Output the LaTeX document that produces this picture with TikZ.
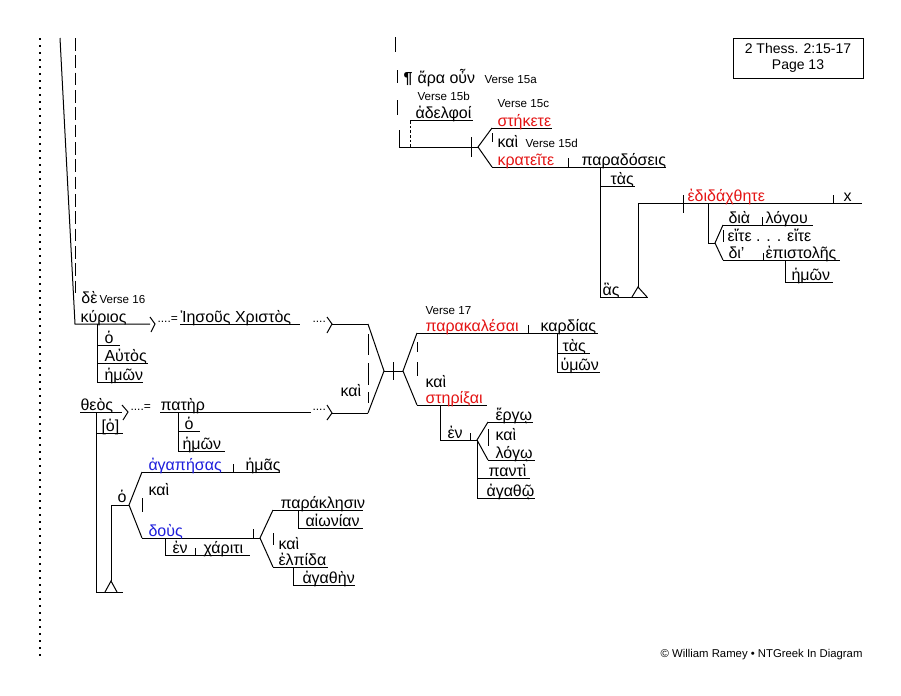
\documentclass[tikz,border=0pt]{standalone}
\usepackage{fontspec}
\setmainfont{Liberation Sans}
\definecolor{gred}{RGB}{228,20,20}
\definecolor{gblue}{RGB}{30,30,220}
\newcommand\W[5][]{\node[gk,#1] (#2) at (#3,#4-2) {#5};}
\newcommand\V[4]{\node[vs] (#1) at (#2,#3) {#4};}
\begin{document}
\begin{tikzpicture}[x=0.75pt,y=-0.75pt,line width=0.75pt,
  gk/.style={font=\fontsize{12}{14}\selectfont,inner sep=0pt,anchor=base west},
  vs/.style={font=\fontsize{8.7}{10}\selectfont,inner sep=0pt,anchor=base west},
  dts/.style={font=\fontsize{9}{10}\selectfont,inner sep=0pt,anchor=base west},
  rd/.style={text=gred}, bl/.style={text=gblue},
  dotline/.style={line width=1.5pt,dash pattern=on 1.5pt off 3.75pt},
  longdash/.style={dash pattern=on 9.5pt off 3.5pt},
  shortdash/.style={dash pattern=on 2pt off 1.5pt}]
\fill[white] (0,0) rectangle (901,696);
\useasboundingbox (0,0) rectangle (901,696);

% ---------- left margin ----------
\draw[dotline] (40,38) -- (40,658);
\draw (60,38) -- (75,324) -- (150,324);
\draw[longdash] (75,38) -- (75,298);

% ---------- kurios line ----------
\W{de}{81}{305}{δὲ}
\V{v16}{99}{303}{Verse 16}
\W{kurios}{80}{324}{κύριος}
\draw (150,317) -- (155,324) -- (151,332);
\node[dts] (eqa) at (157,322) {....=};
\W{iesous}{180}{324}{Ἰησοῦς Χριστὸς}
\draw (180,324) -- (300,324);
\node[dts] (dota) at (312,322) {....};
\draw (327,317) -- (332,324) -- (327,333);
\draw (332,324) -- (368,324);
\draw (97,324) -- (97,382);
\draw (97,345) -- (120,345); \W{ho1}{104}{345}{ὁ}
\draw (97,363) -- (148,363); \W{autos}{104}{363}{Αὐτὸς}
\draw (97,382) -- (143,382); \W{hemon1}{104}{382}{ἡμῶν}

% ---------- theos line ----------
\W{theos}{80}{412}{θεὸς}
\draw (80,412) -- (122,412);
\draw (122,405) -- (128,412) -- (123,420);
\node[dts] (eqb) at (130,410) {....=};
\W{pater}{160}{412}{πατὴρ}
\draw (160,412) -- (311,412);
\node[dts] (dotb) at (312,410) {....};
\draw (327,405) -- (332,413) -- (327,420);
\draw (332,413) -- (368,413);
\draw (178,412) -- (178,451);
\draw (178,431) -- (200,431); \W{ho2}{184}{431}{ὁ}
\draw (178,451) -- (225,451); \W{hemon2}{182}{451}{ἡμῶν}

\draw (96,412) -- (96,592);
\draw (96,433) -- (123,433); \W{ho3}{101}{433}{[ὁ]}
\draw (96,592) -- (123,592);
\draw (105,592) -- (111,581) -- (117,592);
\draw (111,581) -- (111,505) -- (129,505);
\W{ho4}{117}{504}{ὁ}
\draw (142,472) -- (129,505) -- (142,538);
\draw (142,498) -- (142,512);
\draw (142,472) -- (280,472);
\W[bl]{agapesas}{148}{472}{ἀγαπήσας}
\draw (233,464) -- (233,472);
\W{hemas}{245}{472}{ἡμᾶς}
\W{kai1}{148}{497}{καὶ}
\draw (142,538) -- (260,538);
\W[bl]{dous}{148}{538}{δοὺς}
\draw (253,529) -- (253,538);
\draw (165,538) -- (165,555) -- (250,555);
\W{en1}{172}{555}{ἐν}
\draw (195,548) -- (195,555);
\W{chariti}{203}{555}{χάριτι}
\draw (273,510) -- (260,538) -- (273,567);
\draw (273,533) -- (273,545);
\draw (273,510) -- (363,510); \W{paraklesin}{280}{510}{παράκλησιν}
\draw (298,510) -- (298,528) -- (363,528); \W{aionian}{305}{528}{αἰωνίαν}
\W{kai2}{278}{551}{καὶ}
\draw (273,567) -- (328,567); \W{elpida}{278}{567}{ἐλπίδα}
\draw (293,567) -- (293,585) -- (355,585); \W{agathen}{302}{585}{ἀγαθὴν}

% ---------- compound subject join ----------
\draw (368,324) -- (384,371) -- (368,413);
\draw (368,334) -- (368,355);
\draw (368,363) -- (368,385);
\draw (368,392) -- (368,403);
\W{kai3}{340}{398}{καὶ}
\draw (384,371) -- (403,371);
\draw (393,362) -- (393,380);
\draw (417,333) -- (403,371) -- (417,405);
\draw (417,342) -- (417,352);
\draw (417,362) -- (417,376);
\V{v17}{425}{314}{Verse 17}
\draw (417,333) -- (598,333);
\W[rd]{parakalesai}{425}{333}{παρακαλέσαι}
\draw (528,325) -- (528,333);
\W{kardias}{540}{333}{καρδίας}
\draw (557,333) -- (557,372);
\draw (557,353) -- (590,353); \W{tas2}{562}{353}{τὰς}
\draw (557,372) -- (600,372); \W{humon}{560}{372}{ὑμῶν}
\W{kai4}{425}{389}{καὶ}
\draw (417,405) -- (487,405);
\W[rd]{sterixai}{425}{405}{στηρίξαι}
\draw (440,405) -- (440,440) -- (477,440);
\W{en2}{447}{440}{ἐν}
\draw (470,433) -- (470,440);
\draw (488,422) -- (477,440) -- (488,460);
\draw (488,429) -- (488,446);
\draw (488,422) -- (533,422); \W{ergo}{495}{422}{ἔργῳ}
\W{kai5}{495}{442}{καὶ}
\draw (488,460) -- (535,460); \W{logo}{495}{460}{λόγῳ}
\draw (477,440) -- (477,498);
\draw (477,478) -- (530,478); \W{panti}{488}{478}{παντὶ}
\draw (477,498) -- (535,498); \W{agatho}{486}{498}{ἀγαθῷ}

% ---------- verse 15 ----------
\draw (395,37) -- (395,52);
\draw (397,70) -- (397,83);
\draw (397,100) -- (397,115);
\draw (399,130) -- (399,147);
\node[gk,font=\fontsize{12}{14}\selectfont\bfseries] (para) at (403,83) {¶};
\W{araoun}{417}{85}{ἄρα οὖν}
\V{v15a}{484}{83}{Verse 15a}
\V{v15b}{417}{100}{Verse 15b}
\draw (410,120) -- (473,120);
\W{adelphoi}{415}{120}{ἀδελφοί}
\draw[shortdash] (410,121) -- (410,147);
\draw (399,147) -- (478,147);
\draw (471,137) -- (471,157);
\draw (492,128) -- (478,147) -- (492,167);
\draw (492,133) -- (492,142);
\V{v15c}{497}{107}{Verse 15c}
\draw (492,128) -- (552,128);
\W[rd]{stekete}{497}{128}{στήκετε}
\W{kai6}{497}{149}{καὶ}
\V{v15d}{525}{147}{Verse 15d}
\draw (492,167) -- (666,167);
\W[rd]{krateite}{497}{167}{κρατεῖτε}
\draw (568,158) -- (568,167);
\W{paradoseis}{581}{167}{παραδόσεις}
\draw (600,167) -- (600,297);
\draw (600,186) -- (635,186); \W{tas1}{610}{186}{τὰς}
\draw (600,297) -- (648,297); \W{has}{602}{297}{ἃς}
\draw (632,297) -- (638,287) -- (647,297);
\draw (638,287) -- (638,203) -- (862,203);
\draw (683,195) -- (683,213);
\W[rd]{edidachthete}{687}{203}{ἐδιδάχθητε}
\draw (833,195) -- (833,203);
\W{xx}{843}{203}{x}
\draw (708,203) -- (708,243) -- (715,243);
\draw (723,225) -- (715,243) -- (723,260);
\draw (723,225) -- (813,225);
\W{dia}{728}{225}{διὰ}
\draw (762,217) -- (762,225);
\W{logou}{765}{225}{λόγου}
\draw (723,230) -- (723,242);
\W{eite}{727}{243}{εἴτε . . . εἴτε}
\draw (723,260) -- (840,260);
\W{di}{728}{260}{δι’}
\draw (763,253) -- (763,260);
\W{epistoles}{765}{260}{ἐπιστολῆς}
\draw (785,260) -- (785,282) -- (833,282);
\W{hemon3}{791}{282}{ἡμῶν}

% ---------- title box and credit ----------
\node[draw,line width=0.75pt,minimum width=97.5pt,minimum height=30pt,align=center,
  font=\fontsize{10.5}{12}\selectfont,inner sep=0pt] (title) at (798,58) {2 Thess. 2:15-17\\Page 13};
\node[font=\fontsize{8.5}{10}\selectfont,inner sep=0pt,anchor=base east] (credit) at (863,657)
  {© William Ramey • NTGreek In Diagram};
\end{tikzpicture}
\end{document}
